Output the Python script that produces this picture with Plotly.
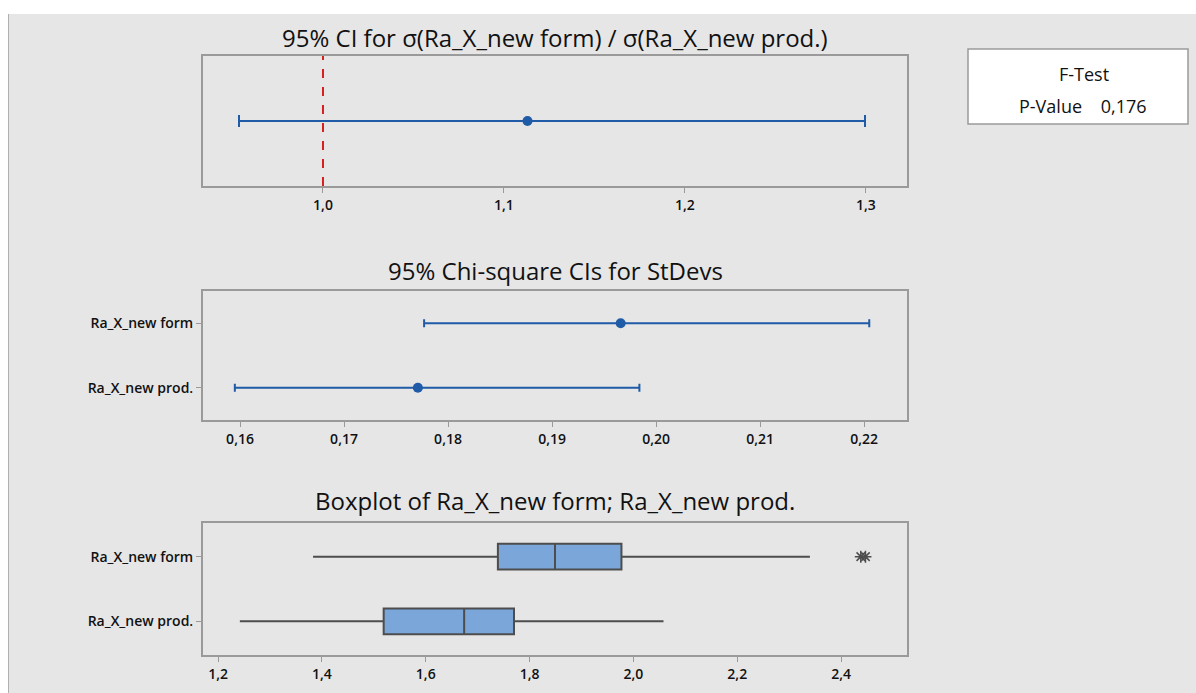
import plotly.graph_objects as go

W, H = 1196, 693

# ---- data ----
ratio_ci = [0.9536, 1.113, 1.2995]          # lower, estimate, upper
ratio_ref = 1.0
groups = ["Ra_X_new form", "Ra_X_new prod."]
sd_lower = [0.1777, 0.1595]
sd_est = [0.1966, 0.1771]
sd_upper = [0.2205, 0.1984]
box_low = [1.383, 1.242]
box_q1 = [1.739, 1.519]
box_med = [1.849, 1.674]
box_q3 = [1.977, 1.770]
box_high = [2.340, 2.058]
outlier_x = [2.438, 2.447]
outlier_group = ["Ra_X_new form", "Ra_X_new form"]
p_value = "0,176"

BLUE = "#1f5ba6"
BG = "#e6e6e6"
FONT = "Open Sans"

def px_x(p):
    return p / W

def px_y(p):
    return 1 - p / H

fig = go.Figure()

# Panel 1: ratio CI
fig.add_trace(go.Scatter(
    x=[ratio_ci[1]], y=[0],
    error_x=dict(type="data", symmetric=False,
                 array=[ratio_ci[2] - ratio_ci[1]],
                 arrayminus=[ratio_ci[1] - ratio_ci[0]],
                 color=BLUE, thickness=2, width=6),
    mode="markers", marker=dict(color=BLUE, size=10),
    xaxis="x", yaxis="y", showlegend=False, hoverinfo="x"))

# Panel 2: stdev CIs
fig.add_trace(go.Scatter(
    x=sd_est, y=groups,
    error_x=dict(type="data", symmetric=False,
                 array=[u - e for u, e in zip(sd_upper, sd_est)],
                 arrayminus=[e - l for e, l in zip(sd_est, sd_lower)],
                 color=BLUE, thickness=2, width=4),
    mode="markers", marker=dict(color=BLUE, size=10),
    xaxis="x2", yaxis="y2", showlegend=False))

# Panel 3: boxplot
fig.add_trace(go.Box(
    y=groups, q1=box_q1, median=box_med, q3=box_q3,
    lowerfence=box_low, upperfence=box_high,
    orientation="h", fillcolor="#7ba6da", whiskerwidth=0,
    line=dict(color="#4d4d4d", width=2), width=0.4,
    xaxis="x3", yaxis="y3", showlegend=False, boxpoints=False))
fig.add_trace(go.Scatter(
    x=outlier_x, y=outlier_group, mode="markers",
    marker=dict(symbol="asterisk-open", size=10, color="#4d4d4d",
                line=dict(color="#4d4d4d", width=1.5)),
    xaxis="x3", yaxis="y3", showlegend=False))

xdom = [px_x(203), px_x(907)]
tickfont = dict(family=FONT, size=14, color="#111111", weight=600)
axis_common = dict(showline=True, linecolor="#9a9a9a", linewidth=2, mirror=True,
                   showgrid=False, zeroline=False, ticks="outside", ticklen=5,
                   tickcolor="#9a9a9a", tickfont=tickfont)

fig.update_layout(
    width=W, height=H,
    margin=dict(l=0, r=0, t=0, b=0),
    paper_bgcolor="white", plot_bgcolor="white",
    separators=", ",
    font=dict(family=FONT),
    xaxis=dict(domain=xdom, anchor="y", range=[0.9337, 1.3227],
               tickvals=[1.0, 1.1, 1.2, 1.3], tickformat=".1f", **axis_common),
    yaxis=dict(domain=[px_y(186), px_y(56)], anchor="x", range=[-1, 1],
               showticklabels=False, showline=True, linecolor="#9a9a9a",
               linewidth=2, mirror=True, showgrid=False, zeroline=False),
    xaxis2=dict(domain=xdom, anchor="y2", range=[0.15644, 0.22413],
                tickvals=[0.16, 0.17, 0.18, 0.19, 0.20, 0.21, 0.22],
                tickformat=".2f", **axis_common),
    yaxis2=dict(domain=[px_y(420), px_y(291)], anchor="x2",
                categoryorder="array", categoryarray=groups[::-1],
                range=[-0.5, 1.5], **axis_common),
    xaxis3=dict(domain=xdom, anchor="y3", range=[1.171, 2.527],
                tickvals=[1.2, 1.4, 1.6, 1.8, 2.0, 2.2, 2.4],
                tickformat=".1f", **axis_common),
    yaxis3=dict(domain=[px_y(655), px_y(523)], anchor="x3",
                categoryorder="array", categoryarray=groups[::-1],
                range=[-0.52, 1.52], **axis_common),
)

# gray canvas with white strip at top/left
fig.add_shape(type="rect", xref="paper", yref="paper",
              x0=px_x(8), x1=1, y0=0, y1=px_y(14),
              fillcolor=BG, line=dict(width=0), layer="below")
fig.add_shape(type="line", xref="paper", yref="paper",
              x0=px_x(8.5), x1=px_x(8.5), y0=0, y1=px_y(14),
              line=dict(color="#b0b0b0", width=1), layer="below")

# reference line
fig.add_shape(type="line", xref="x", yref="paper",
              x0=ratio_ref, x1=ratio_ref, y0=px_y(186), y1=px_y(56),
              line=dict(color="#d62020", width=2, dash="dash"))

titles = [
    ("95% CI for σ(Ra_X_new form) / σ(Ra_X_new prod.)", 37),
    ("95% Chi-square CIs for StDevs", 270),
    ("Boxplot of Ra_X_new form; Ra_X_new prod.", 500),
]
for t, yp in titles:
    fig.add_annotation(text=t, xref="paper", yref="paper",
                       x=px_x(555), y=px_y(yp), showarrow=False,
                       xanchor="center", yanchor="middle",
                       font=dict(family=FONT, size=24, color="#111111"))

# F-test box
fig.add_shape(type="rect", xref="paper", yref="paper",
              x0=px_x(968), x1=px_x(1188), y0=px_y(124), y1=px_y(49),
              fillcolor="white", line=dict(color="#9a9a9a", width=1.5))
fig.add_annotation(text="F-Test", xref="paper", yref="paper",
                   x=px_x(1084), y=px_y(74), showarrow=False,
                   xanchor="center", yanchor="middle",
                   font=dict(family=FONT, size=18, color="#111111"))
fig.add_annotation(text="P-Value&nbsp;&nbsp;&nbsp;&nbsp;" + p_value,
                   xref="paper", yref="paper",
                   x=px_x(1083), y=px_y(106), showarrow=False,
                   xanchor="center", yanchor="middle",
                   font=dict(family=FONT, size=18, color="#111111"))

fig.write_html("out.html", config={"displayModeBar": False},
               post_script="document.body.style.margin='0';")
